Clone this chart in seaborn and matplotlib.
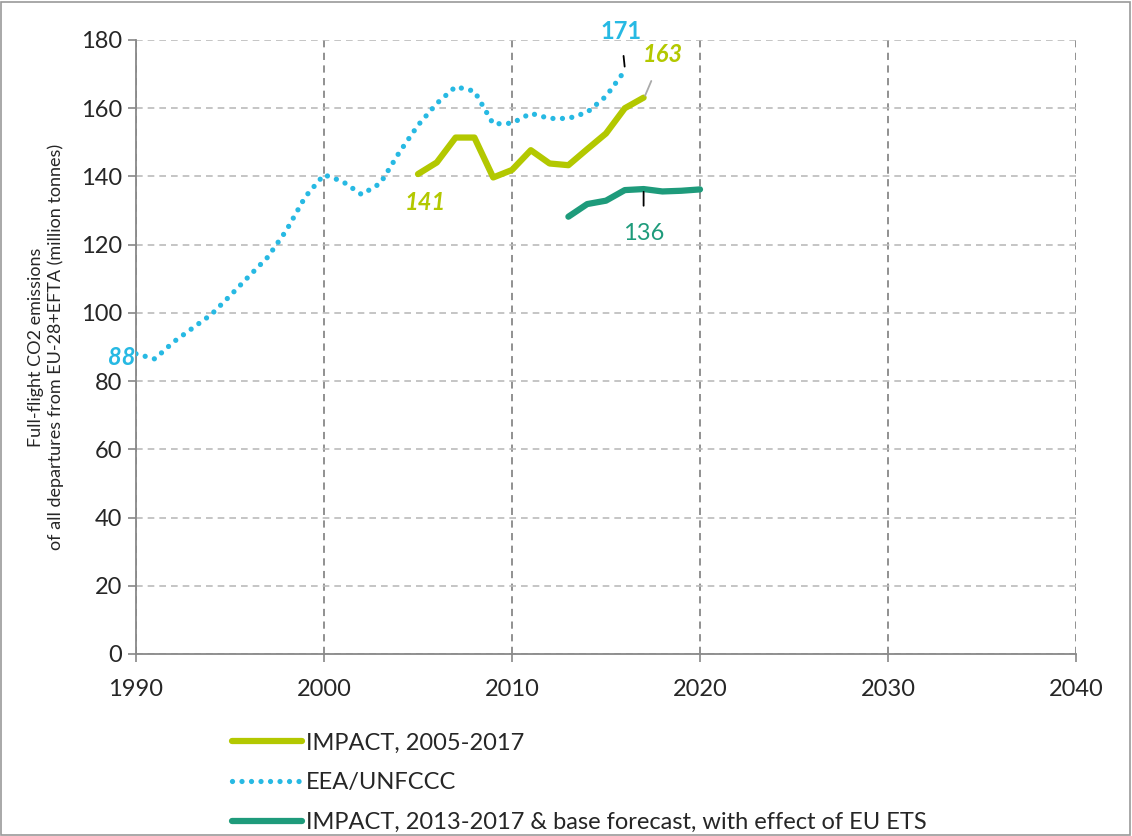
import matplotlib
matplotlib.use("Agg")
import matplotlib.pyplot as plt
import seaborn as sns
import pandas as pd
from matplotlib.lines import Line2D
from matplotlib.patches import Rectangle

# ---- data ----
eea_years = list(range(1990, 2017))
eea_values = [88, 86.5, 91.5, 95.5, 99.5, 105, 110.7, 116.3, 124.2, 134, 140.5,
              138.5, 134.7, 138, 147, 155, 161.4, 166.3, 165, 155.4, 155.6,
              158.5, 157, 157, 158.8, 163.5, 171]
impact_years = list(range(2005, 2018))
impact_values = [140.7, 144.1, 151.4, 151.4, 139.7, 141.9, 147.7, 143.8, 143.3,
                 148, 152.6, 160, 163.1]
ets_years = list(range(2013, 2021))
ets_values = [128.2, 131.9, 132.9, 136, 136.3, 135.6, 135.8, 136.2]

x_ticks = [1990, 2000, 2010, 2020, 2030, 2040]
y_ticks = list(range(0, 181, 20))
legend_labels = ["IMPACT, 2005-2017", "EEA/UNFCCC",
                 "IMPACT, 2013-2017 & base forecast, with effect of EU ETS"]
y_label = "Full-flight CO2 emissions\nof all departures from EU-28+EFTA (million tonnes)"

c_impact = "#B3C800"
c_eea = "#27B9E3"
c_ets = "#1E9B7B"

sns.set_style("white")
plt.rcParams["font.family"] = ["Lato", "DejaVu Sans"]

fig = plt.figure(figsize=(11.32, 8.36), dpi=100)
ax = fig.add_axes([136/1132, 1-654/836, (1076-136)/1132, (654-40)/836])

df_eea = pd.DataFrame({"year": eea_years, "value": eea_values})
df_imp = pd.DataFrame({"year": impact_years, "value": impact_values})
df_ets = pd.DataFrame({"year": ets_years, "value": ets_values})

sns.lineplot(data=df_eea, x="year", y="value", ax=ax, color=c_eea, lw=3.8,
             linestyle=(0, (0.001, 1.8)), dash_capstyle="round", zorder=3)
sns.lineplot(data=df_imp, x="year", y="value", ax=ax, color=c_impact, lw=4.5,
             solid_capstyle="round", zorder=3)
sns.lineplot(data=df_ets, x="year", y="value", ax=ax, color=c_ets, lw=4.5,
             solid_capstyle="round", zorder=3)

ax.set_xlim(1990, 2040)
ax.set_ylim(0, 180)
ax.set_xticks(x_ticks)
ax.set_yticks(y_ticks)
ax.set_xlabel("")
ax.set_ylabel(y_label, fontsize=13, labelpad=12, linespacing=1.3)
ax.tick_params(axis="both", labelsize=17, length=6, width=1.2, color="#888888",
               direction="out", left=True, bottom=True)
ax.tick_params(axis="x", pad=12)
ax.tick_params(axis="y", pad=4)

for s in ["top", "right"]:
    ax.spines[s].set_visible(False)
for s in ["left", "bottom"]:
    ax.spines[s].set_color("#888888")
    ax.spines[s].set_linewidth(1.3)

ax.grid(axis="y", color="#BBBBBB", linestyle=(0, (4, 3)), lw=1.2)
ax.grid(axis="x", color="#888888", linestyle=(0, (4, 3)), lw=1.3)
ax.set_axisbelow(True)

# annotations
ax.annotate("171", xy=(2016.0, 171.8), xytext=(2015.8, 182.5), ha="center", va="center",
            color=c_eea, fontsize=17, fontweight="bold", annotation_clip=False,
            arrowprops=dict(arrowstyle="-", color="black", lw=1.3, shrinkA=7, shrinkB=1))
ax.annotate("163", xy=(2017.05, 163.3), xytext=(2018.0, 175.7), ha="center", va="center",
            color=c_impact, fontsize=17, fontweight="bold", style="italic", annotation_clip=False,
            arrowprops=dict(arrowstyle="-", color="#AAAAAA", lw=1.3, shrinkA=9, shrinkB=1))
ax.text(2005.4, 132.3, "141", ha="center", va="center", color=c_impact,
        fontsize=17, fontweight="bold", style="italic")
ax.text(1989.95, 86.8, "88", ha="right", va="center", color=c_eea,
        fontsize=17, fontweight="bold", style="italic", clip_on=False)
ax.annotate("136", xy=(2017.0, 136.3), xytext=(2017.0, 123.3), ha="center", va="center",
            color=c_ets, fontsize=17,
            arrowprops=dict(arrowstyle="-", color="black", lw=1.3, shrinkA=10, shrinkB=2))

# legend
handles = [
    Line2D([], [], color=c_impact, lw=4.5),
    Line2D([], [], color=c_eea, lw=3.8, linestyle=(0, (0.001, 1.8)), dash_capstyle="round"),
    Line2D([], [], color=c_ets, lw=4.5),
]
fig.legend(handles, legend_labels, loc="upper left", bbox_to_anchor=(215/1132, 1-716/836),
           frameon=False, fontsize=17, handlelength=3.0, handletextpad=0.15,
           labelspacing=0.8, borderaxespad=0.3)

fig.add_artist(Rectangle((0.001, 0.001), 0.997, 0.997, transform=fig.transFigure,
                         fill=False, edgecolor="#999999", lw=1.2))

fig.savefig("out.png", dpi=100)
